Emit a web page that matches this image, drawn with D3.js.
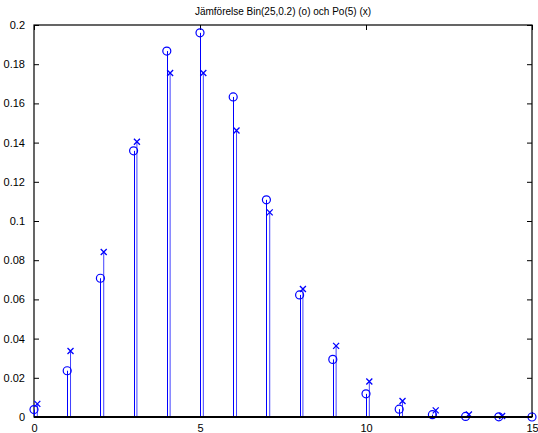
<!DOCTYPE html>
<html>
<head>
<meta charset="utf-8">
<script src="https://cdn.jsdelivr.net/npm/d3@7"></script>
<style>
  body { margin: 0; background: #fff; }
  text { font-family: "Liberation Sans", Arial, sans-serif; fill: #000; }
</style>
</head>
<body>
<div id="chart"></div>
<script>
// k = 0..15
var k = [0, 1, 2, 3, 4, 5, 6, 7, 8, 9, 10, 11, 12, 13, 14, 15]
// Bin(25,0.2)  (o)
var binVals = [0.0038, 0.0236, 0.0708, 0.1358, 0.1867, 0.1960, 0.1633, 0.1108,
               0.0623, 0.0294, 0.0118, 0.0040, 0.0012, 0.0003, 0.0001, 0.0000]
// Po(5)  (x)
var poVals = [0.0067, 0.0337, 0.0842, 0.1404, 0.1755, 0.1755, 0.1462, 0.1044,
              0.0653, 0.0363, 0.0181, 0.0082, 0.0034, 0.0013, 0.0005, 0.0002]
var xTicks = [0, 5, 10, 15]
var yTicks = [0, 0.02, 0.04, 0.06, 0.08, 0.1, 0.12, 0.14, 0.16, 0.18, 0.2]
var title = "Jämförelse Bin(25,0.2) (o) och Po(5) (x)"

var W = 538, H = 433,
    pLeft = 34, pRight = 532, pTop = 25, pBottom = 417,
    blue = "#0000ff"

var svg = d3.select("#chart")
    .append("svg")
    .attr("width", W)
    .attr("height", H)

var x = d3.scaleLinear().domain([0, 15]).range([pLeft, pRight])
var y = d3.scaleLinear().domain([0, 0.2]).range([pBottom, pTop])

svg.append("defs").append("clipPath")
    .attr("id", "plotClip")
    .append("rect")
    .attr("x", pLeft - 6).attr("y", pTop - 6)
    .attr("width", pRight - pLeft + 12).attr("height", pBottom - pTop + 12)

// axes box
svg.append("rect")
    .attr("x", pLeft).attr("y", pTop)
    .attr("width", pRight - pLeft).attr("height", pBottom - pTop)
    .attr("fill", "none")
    .attr("stroke", "#000")
    .attr("stroke-width", 1.2)

// left / bottom axes with inward ticks
var yAxis = d3.axisLeft(y).tickValues(yTicks).tickSizeInner(-5).tickSizeOuter(0).tickPadding(9)
    .tickFormat(function (d) { return d === 0 ? "0" : String(+d.toFixed(2)) })
var gy = svg.append("g").attr("transform", "translate(" + pLeft + ",0)").call(yAxis)

var xAxis = d3.axisBottom(x).tickValues(xTicks).tickSizeInner(-5).tickSizeOuter(0).tickPadding(7)
var gx = svg.append("g").attr("transform", "translate(0," + pBottom + ")").call(xAxis)

// right / top ticks (no labels)
var gyr = svg.append("g").attr("transform", "translate(" + pRight + ",0)")
    .call(d3.axisRight(y).tickValues(yTicks).tickSizeInner(-5).tickSizeOuter(0).tickFormat(""))
var gxt = svg.append("g").attr("transform", "translate(0," + pTop + ")")
    .call(d3.axisTop(x).tickValues(xTicks).tickSizeInner(-5).tickSizeOuter(0).tickFormat(""))

;[gy, gx, gyr, gxt].forEach(function (g) {
    g.select(".domain").remove()
    g.selectAll("text").style("font-size", "11px").attr("fill", "#000")
})

// title
svg.append("text")
    .attr("x", (pLeft + pRight) / 2)
    .attr("y", 15)
    .attr("text-anchor", "middle")
    .style("font-size", "10px")
    .text(title)

var plot = svg.append("g").attr("clip-path", "url(#plotClip)")

var binData = k.map(function (d, i) { return { k: d, v: binVals[i] } })
var poData = k.map(function (d, i) { return { k: d + 0.1, v: poVals[i] } })
    .filter(function (d) { return d.k <= 15 })

// Po stems
plot.selectAll(".poStem")
    .data(poData)
    .enter().append("line")
    .attr("x1", function (d) { return x(d.k) }).attr("x2", function (d) { return x(d.k) })
    .attr("y1", y(0)).attr("y2", function (d) { return y(d.v) })
    .attr("stroke", blue).attr("stroke-opacity", 0.75).attr("stroke-width", 1)

// Bin stems
plot.selectAll(".binStem")
    .data(binData)
    .enter().append("line")
    .attr("x1", function (d) { return Math.round(x(d.k)) + 0.5 }).attr("x2", function (d) { return Math.round(x(d.k)) + 0.5 })
    .attr("y1", y(0)).attr("y2", function (d) { return y(d.v) })
    .attr("stroke", blue).attr("stroke-width", 1)

// baseline
svg.append("line")
    .attr("x1", pLeft).attr("x2", pRight)
    .attr("y1", y(0)).attr("y2", y(0))
    .attr("stroke", "#000").attr("stroke-width", 2)

// o markers
plot.selectAll(".binMark")
    .data(binData)
    .enter().append("circle")
    .attr("cx", function (d) { return x(d.k) })
    .attr("cy", function (d) { return y(d.v) })
    .attr("r", 4)
    .attr("fill", "none")
    .attr("stroke", blue)
    .attr("stroke-width", 1.2)

// x markers
var s = 3
plot.selectAll(".poMark")
    .data(poData)
    .enter().append("path")
    .attr("d", function (d) {
        var cx = x(d.k), cy = y(d.v)
        return "M" + (cx - s) + "," + (cy - s) + "L" + (cx + s) + "," + (cy + s) +
               "M" + (cx - s) + "," + (cy + s) + "L" + (cx + s) + "," + (cy - s)
    })
    .attr("stroke", blue)
    .attr("stroke-width", 1.3)
    .attr("fill", "none")
</script>
</body>
</html>
